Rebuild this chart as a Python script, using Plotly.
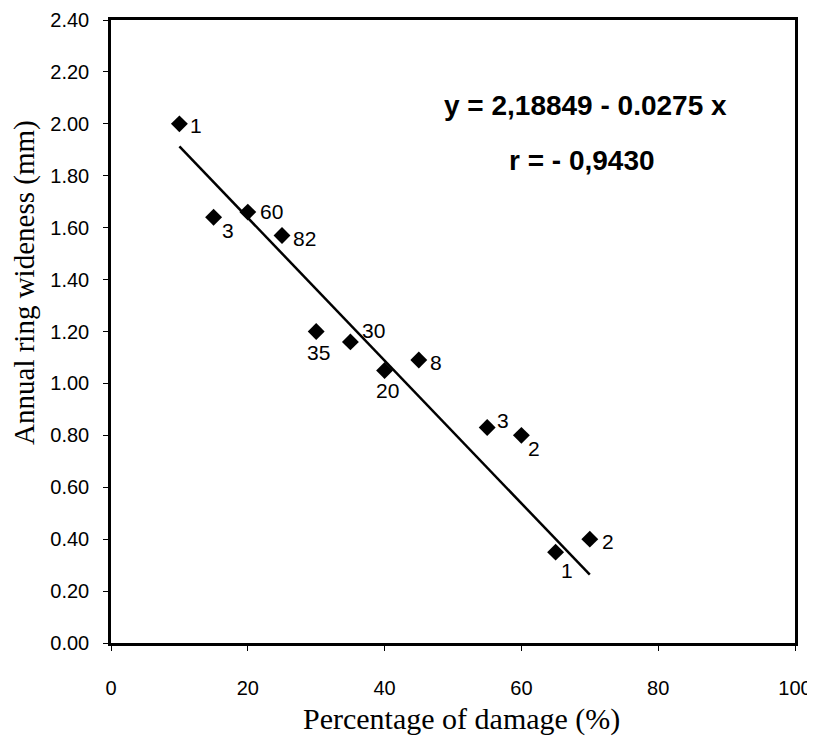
import plotly.graph_objects as go

# data
damage = [10, 15, 20, 25, 30, 35, 40, 45, 55, 60, 65, 70]
ring_width = [2.00, 1.64, 1.66, 1.57, 1.20, 1.16, 1.05, 1.09, 0.83, 0.80, 0.35, 0.40]
point_labels = ["1", "3", "60", "82", "35", "30", "20", "8", "3", "2", "1", "2"]

# regression line endpoints (y = 2.18849 - 0.0275 x at x = 10 and x = 70)
fit_x = [10, 70]
fit_y = [1.913, 0.263]

equation_text = "y = 2,18849 - 0.0275 x"
r_text = "r = - 0,9430"
x_title = "Percentage of damage (%)"
y_title = "Annual ring wideness (mm)"

# label offsets from each marker in pixels (style only)
label_dx = [17, 14, 24, 22, 2, 23, 3, 17, 16, 13, 11, 18]
label_dy = [2, 13, -1, 3, 21, -11, 20, 2, -7, 13, 18, 2]

SANS = "Liberation Sans, Arial, sans-serif"
SERIF = "Liberation Serif, Times New Roman, serif"

fig = go.Figure()
fig.add_trace(go.Scatter(
    x=fit_x, y=fit_y, mode="lines",
    line=dict(color="black", width=2.5), hoverinfo="skip", showlegend=False))
fig.add_trace(go.Scatter(
    x=damage, y=ring_width, mode="markers",
    marker=dict(symbol="diamond", size=13, color="black"),
    showlegend=False))

for xv, yv, t, dx, dy in zip(damage, ring_width, point_labels, label_dx, label_dy):
    fig.add_annotation(x=xv, y=yv, xref="x", yref="y", text=t, showarrow=False,
                       xanchor="center", yanchor="middle", xshift=dx, yshift=-dy,
                       font=dict(family=SANS, size=21, color="black"))

fig.add_annotation(x=69.3, y=2.07, xref="x", yref="y", text="<b>" + equation_text + "</b>",
                   showarrow=False, font=dict(family=SANS, size=28, color="black"))
fig.add_annotation(x=68.9, y=1.86, xref="x", yref="y", text="<b>" + r_text + "</b>",
                   showarrow=False, font=dict(family=SANS, size=28, color="black"))

# axis titles placed as annotations
fig.add_annotation(x=0.513, y=0, xref="paper", yref="paper", yshift=-76,
                   text=x_title, showarrow=False, xanchor="center", yanchor="middle",
                   font=dict(family=SERIF, size=30, color="black"))
fig.add_annotation(x=0, y=0.578, xref="paper", yref="paper", xshift=-86,
                   text=y_title, showarrow=False, textangle=-90,
                   xanchor="center", yanchor="middle",
                   font=dict(family=SERIF, size=29, color="black"))

axis_common = dict(
    showline=True, linecolor="black", linewidth=2.5, mirror=True,
    showgrid=False, zeroline=False, ticks="outside", ticklen=5, tickwidth=1,
    tickcolor="black", automargin=False,
    tickfont=dict(family=SANS, size=20, color="black"),
)

fig.update_xaxes(range=[0, 100], dtick=20, tick0=0, ticklabelstandoff=20, **axis_common)
fig.update_yaxes(range=[0, 2.4], dtick=0.2, tick0=0, tickformat=".2f",
                 ticklabelstandoff=10, **axis_common)

fig.update_layout(
    width=815, height=736,
    margin=dict(l=103, r=28, t=12, b=101, autoexpand=False),
    plot_bgcolor="white", paper_bgcolor="white",
)

fig.write_html("out.html", post_script="document.body.style.overflow='hidden';")
